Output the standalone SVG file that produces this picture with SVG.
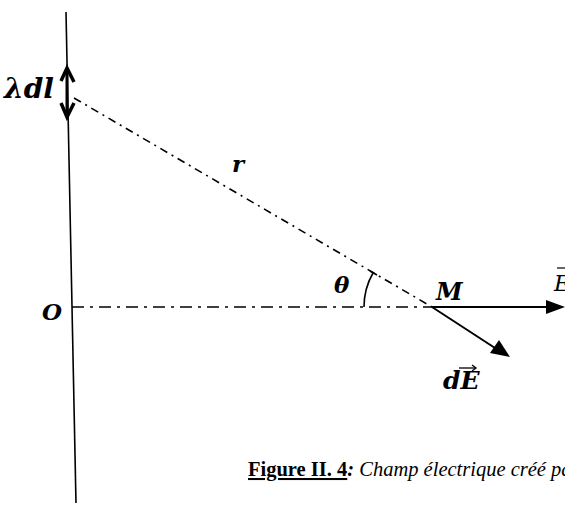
<svg xmlns="http://www.w3.org/2000/svg" width="565" height="505" viewBox="0 0 565 505">
<style>
.lbl{font-family:"DejaVu Serif","Liberation Serif",serif;font-weight:bold;font-style:italic;fill:#000}
.cap{font-family:"Liberation Serif","DejaVu Serif",serif;fill:#000;font-size:20.5px}
.dd{fill:none;stroke:#000;stroke-width:1.6}
</style>
<rect width="565" height="505" fill="#fff"/>
<g id="connectors">
<line x1="66" y1="12" x2="76" y2="503" stroke="#000" stroke-width="1.6"/>
<line class="dd" x1="74" y1="98" x2="432" y2="307" stroke-dasharray="8,5,2,5"/>
<line class="dd" x1="72" y1="307" x2="432" y2="307" stroke-width="2" stroke-dasharray="12,6,3,6"/>
<line x1="432" y1="307" x2="547" y2="307" stroke="#000" stroke-width="2"/>
<path d="M546,300 L565,307 L546,314 Z" fill="#000"/>
<line x1="432" y1="307" x2="495" y2="348" stroke="#000" stroke-width="2"/>
<path d="M510,357 L490,353 L499,340 Z" fill="#000"/>
<path d="M364,307 A68,68 0 0 1 373,273" fill="none" stroke="#000" stroke-width="1.6"/>
<line x1="370" y1="271" x2="377" y2="275" stroke="#000" stroke-width="1.6"/>
</g>
<g id="dl">
<line x1="67" y1="68" x2="67" y2="117" stroke="#000" stroke-width="3"/>
<polyline points="61,81 67,68 74,82" fill="none" stroke="#000" stroke-width="3.5"/>
<polyline points="61,103 67,117 74,103" fill="none" stroke="#000" stroke-width="3.5"/>
<text class="lbl" x="4" y="98" font-size="28">λdl</text>
</g>
<g id="r"><text class="lbl" x="232" y="172" font-size="23">r</text></g>
<g id="theta"><text class="lbl" x="334" y="293" font-size="23">θ</text></g>
<g id="M"><text class="lbl" x="436" y="300" font-size="24">M</text></g>
<g id="O"><text class="lbl" x="42" y="320" font-size="23">O</text></g>
<g id="Ebar">
<text x="554" y="291" font-size="22" font-family="DejaVu Serif, serif" font-style="italic" fill="#000">E</text>
<line x1="557" y1="268" x2="566" y2="268" stroke="#000" stroke-width="1.2"/>
</g>
<g id="dE">
<text class="lbl" x="443" y="389" font-size="25">dE</text>
<line x1="459" y1="368" x2="476" y2="368" stroke="#000" stroke-width="1.3"/>
<polyline points="472,365 476,368 472,371" fill="none" stroke="#000" stroke-width="1.3"/>
</g>
<g id="caption">
<text class="cap" x="248" y="476"><tspan font-weight="bold" text-decoration="underline">Figure II. 4</tspan><tspan font-style="italic" font-weight="bold">:</tspan><tspan font-style="italic"> Champ électrique créé pa</tspan></text>
</g>
</svg>
